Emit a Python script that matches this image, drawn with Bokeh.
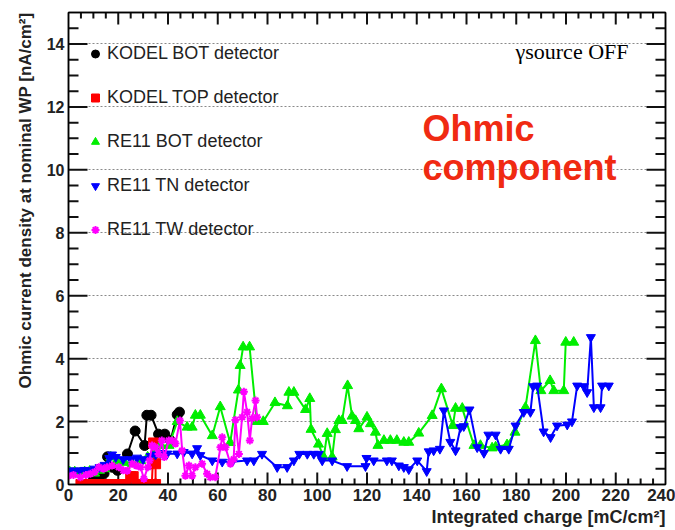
from bokeh.plotting import figure
from bokeh.models import (Range1d, LinearAxis, SingleIntervalTicker, Legend,
                          LegendItem, Label, Title)
from bokeh.embed import file_html
from bokeh.resources import INLINE

# Ohmic current density vs integrated charge, gamma source off
kodel_bot_x = [10.0, 12.5, 14.3, 15.7, 17.5, 19.7, 23.7, 26.8, 30.6, 31.5, 33.2, 36.2, 38.7, 41.0, 43.7, 44.6]
kodel_bot_y = [0.20, 0.28, 0.35, 0.88, 0.55, 0.45, 0.97, 1.70, 1.24, 2.20, 2.20, 1.60, 1.60, 1.40, 2.22, 2.30]

kodel_top_x = [5.0, 7.0, 9.0, 11.0, 13.0, 15.0, 17.0, 19.0, 21.0, 23.0, 25.0, 26.0,
               27.5, 29.5, 31.5, 33.5, 34.2, 35.0, 35.0]
kodel_top_y = [0.0, 0.0, 0.0, 0.0, 0.0, 0.0, 0.0, 0.0, 0.0, 0.0, 0.25, 0.25,
               0.0, 0.0, 0.0, 0.0, 1.32, 0.66, 0.0]

re11_bot_x = [0.5, 2.5, 4.5, 6.5, 8.5, 10.5, 12.5, 14.5, 17.0, 19.5, 22.5, 25.7, 29.0, 31.8, 34.5,
              37.0, 40.4, 43.7, 47.7, 49.7, 51.0, 53.0, 57.8, 61.0, 65.0, 68.3, 69.0, 70.2, 72.8,
              75.7, 78.3, 83.0, 88.0, 88.6, 90.6, 95.3, 97.0, 97.5, 100.5, 102.6, 104.0, 106.0,
              107.3, 108.7, 110.0, 112.2, 114.0, 115.4, 116.7, 120.0, 121.4, 123.4, 124.4, 126.8,
              129.4, 132.0, 134.8, 136.8, 140.8, 146.2, 149.9, 154.5, 155.6, 158.3, 163.0, 165.6,
              170.3, 171.7, 176.3, 179.5, 183.7, 187.7, 189.9, 193.6, 195.1, 199.1, 199.9, 203.1]
re11_bot_y = [0.40, 0.40, 0.36, 0.40, 0.42, 0.36, 0.45, 0.50, 0.87, 0.74, 0.70, 0.66, 0.76, 0.87, 0.95,
              1.24, 1.24, 2.00, 1.82, 1.82, 2.20, 2.20, 1.55, 2.47, 1.33, 3.00, 3.78, 4.37, 4.37,
              2.00, 2.00, 2.60, 2.50, 2.93, 2.93, 2.38, 2.73, 1.75, 1.28, 0.87, 1.62, 0.87,
              1.74, 2.03, 2.03, 3.14, 2.17, 2.03, 1.77, 2.14, 1.93, 1.66, 1.24, 1.40,
              1.40, 1.40, 1.34, 1.34, 1.63, 2.19, 3.04, 1.87, 2.42, 2.42, 1.24, 1.24,
              1.16, 1.19, 1.26, 1.66, 2.45, 4.57, 2.98, 3.30, 2.98, 2.98, 4.52, 4.52]

re11_tn_x = [0.3, 2.5, 4.5, 6.5, 8.5, 10.5, 12.5, 14.5, 16.4, 17.5, 19.0, 22.0, 25.0, 27.5, 30.0,
             33.0, 35.0, 37.0, 39.7, 43.7, 46.3, 49.7, 51.7, 53.0, 57.8, 61.8, 65.8, 71.8, 74.5,
             77.8, 83.9, 87.9, 90.6, 92.8, 96.0, 98.6, 100.6, 102.0, 106.0, 112.0, 119.4, 119.8,
             122.7, 128.0, 130.0, 132.8, 134.8, 136.8, 140.2, 144.0, 144.8, 146.8, 149.3, 150.9,
             153.5, 155.6, 157.6, 158.9, 161.2, 164.3, 167.0, 168.8, 171.7, 173.7, 177.0, 179.7,
             183.0, 185.7, 186.8, 188.4, 191.0, 193.8, 196.4, 200.5, 202.4, 204.5, 207.2, 208.5,
             210.0, 211.2, 213.9, 214.5, 217.2]
re11_tn_y = [0.44, 0.44, 0.44, 0.46, 0.44, 0.50, 0.55, 0.62, 0.84, 0.95, 0.87, 0.80, 0.80, 0.85, 0.80,
             0.90, 0.95, 1.00, 0.98, 0.98, 1.03, 0.98, 1.15, 0.93, 0.76, 0.72, 0.72, 0.76, 0.76,
             0.97, 0.55, 0.55, 0.76, 0.97, 0.97, 0.97, 0.97, 0.76, 0.76, 0.58, 0.58, 0.84,
             0.76, 0.76, 0.76, 0.60, 0.55, 0.48, 0.76, 0.42, 1.05, 1.08, 1.13, 2.35,
             1.35, 1.08, 1.82, 1.85, 2.38, 1.18, 1.00, 1.58, 1.58, 1.13, 1.13, 1.87,
             2.30, 2.30, 3.12, 3.14, 1.68, 1.50, 1.87, 1.90, 2.00, 3.14, 3.12, 2.93,
             4.68, 2.45, 2.45, 3.14, 3.14]

re11_tw_x = [0.0, 2.0, 4.8, 7.0, 8.8, 10.5, 12.2, 14.0, 15.5, 17.5, 20.2, 22.0, 23.6, 25.6, 27.3,
             29.0, 30.3, 31.9, 32.6, 33.6, 35.0, 36.2, 37.5, 38.5, 40.3, 41.7, 43.0, 44.8, 45.7,
             47.0, 48.4, 49.7, 51.0, 53.7, 55.7, 57.0, 59.0, 61.1, 61.8, 63.1, 65.1, 66.4, 67.1,
             68.5, 69.8, 70.5, 71.8, 72.9, 73.8, 75.2, 75.8]
re11_tw_y = [0.28, 0.30, 0.23, 0.30, 0.34, 0.40, 0.55, 0.50, 0.55, 0.60, 0.55, 0.45, 0.44, 0.66, 0.60,
             0.55, 0.18, 0.55, 0.76, 1.24, 1.18, 0.97, 1.40, 0.87, 1.40, 1.40, 1.30, 2.03, 1.08,
             0.28, 0.60, 0.28, 0.55, 0.66, 0.34, 0.23, 0.23, 1.18, 1.50, 1.18, 0.66, 0.80, 2.05,
             0.97, 2.14, 2.95, 2.30, 1.40, 2.10, 2.67, 2.14]

X_MIN, X_MAX, X_STEP, X_SUB = 0, 240, 20, 4
Y_MIN, Y_MAX, Y_STEP, Y_SUB = 0, 15, 2, 4

FONT = "Liberation Sans"
W, H = 675, 530
BORDER_L, BORDER_R, BORDER_T, BORDER_B = 68, 10, 12, 46

p = figure(width=W, height=H, x_range=Range1d(X_MIN, X_MAX), y_range=Range1d(Y_MIN, Y_MAX),
           output_backend="svg", toolbar_location=None,
           min_border_left=BORDER_L, min_border_right=BORDER_R,
           min_border_top=BORDER_T, min_border_bottom=BORDER_B,
           background_fill_color="white", border_fill_color="white")
p.outline_line_color = "black"
p.outline_line_width = 1.5

xt = SingleIntervalTicker(interval=X_STEP, num_minor_ticks=X_SUB)
yt = SingleIntervalTicker(interval=Y_STEP, num_minor_ticks=Y_SUB)


def style_axis(ax, show_labels=True):
    ax.axis_line_color = "black"
    ax.axis_line_width = 1.5
    ax.major_tick_line_color = None
    ax.minor_tick_line_color = None
    ax.major_tick_out = 0
    ax.minor_tick_out = 0
    ax.major_label_text_font = FONT
    ax.major_label_text_font_style = "bold"
    if show_labels:
        ax.major_label_text_color = "#222222"
        ax.major_label_text_font_size = "16px"
        ax.major_label_standoff = 4
    else:
        ax.major_label_text_color = None
        ax.major_label_text_font_size = "1px"
        ax.major_label_standoff = 0


p.xaxis.ticker = xt
p.yaxis.ticker = yt
style_axis(p.xaxis[0])
style_axis(p.yaxis[0])
p.xaxis.major_label_text_font_size = "17px"

top = LinearAxis(ticker=xt)
style_axis(top, show_labels=False)
p.add_layout(top, "above")
right = LinearAxis(ticker=yt)
style_axis(right, show_labels=False)
p.add_layout(right, "right")

p.xgrid.visible = False
p.ygrid.ticker = yt
p.ygrid.grid_line_color = "#8a8a8a"
p.ygrid.grid_line_dash = "2 2"
p.ygrid.grid_line_width = 1

# inward tick marks on all four sides of the frame; pixel lengths are
# converted to data units with the frame's size
frame_w = W - BORDER_L - BORDER_R
frame_h = H - BORDER_T - BORDER_B
dx_per_px = (X_MAX - X_MIN) / frame_w
dy_per_px = (Y_MAX - Y_MIN) / frame_h

n_x = int((X_MAX - X_MIN) * X_SUB / X_STEP)
n_y = int((Y_MAX - Y_MIN) * Y_SUB / Y_STEP)
x_ticks = [(X_MIN + i * X_STEP / X_SUB, 12 if i % X_SUB == 0 else 6) for i in range(1, n_x)]
y_ticks = [(Y_MIN + i * Y_STEP / Y_SUB, 19 if i % Y_SUB == 0 else 10) for i in range(1, n_y + 1)
           if Y_MIN + i * Y_STEP / Y_SUB < Y_MAX]

tx0, ty0, tx1, ty1 = [], [], [], []
for v, ln in x_ticks:
    tx0 += [v, v]
    tx1 += [v, v]
    ty0 += [Y_MIN, Y_MAX]
    ty1 += [Y_MIN + ln * dy_per_px, Y_MAX - ln * dy_per_px]
for v, ln in y_ticks:
    ty0 += [v, v]
    ty1 += [v, v]
    tx0 += [X_MIN, X_MAX]
    tx1 += [X_MIN + ln * dx_per_px, X_MAX - ln * dx_per_px]
p.segment(x0=tx0, y0=ty0, x1=tx1, y1=ty1, line_color="#111111", line_width=2)

p.add_layout(Title(text="Ohmic current density at nominal WP [nA/cm²]", align="right",
                   text_font=FONT, text_font_size="17px", text_font_style="bold",
                   text_color="#222222", offset=0, standoff=18), "left")
p.add_layout(Title(text="Integrated charge [mC/cm²]", align="right",
                   text_font=FONT, text_font_size="18px", text_font_style="bold",
                   text_color="#222222", offset=0, standoff=3), "below")

series = [
    (kodel_bot_x, kodel_bot_y, "black", "circle", 10, "KODEL BOT detector"),
    (kodel_top_x, kodel_top_y, "#ff0000", "square", 10, "KODEL TOP detector"),
    (re11_bot_x, re11_bot_y, "#00ee00", "triangle", 10, "RE11 BOT detector"),
    (re11_tn_x, re11_tn_y, "#0000ff", "inverted_triangle", 9, "RE11 TN detector"),
    (re11_tw_x, re11_tw_y, "#ff00ff", "asterisk", 8, "RE11 TW detector"),
]

items = []
for xs, ys, color, marker, size, label in series:
    p.line(xs, ys, line_color=color, line_width=2)
    r = p.scatter(xs, ys, marker=marker, size=size, fill_color=color,
                  line_color=color, line_width=2 if marker == "asterisk" else 1)
    items.append(LegendItem(label=label, renderers=[r]))

legend = Legend(items=items, location=(12, 239), background_fill_alpha=0,
                border_line_alpha=0, label_text_font=FONT, label_text_font_size="18px",
                label_text_color="#222222", glyph_width=20, glyph_height=21,
                label_height=21, spacing=23, padding=5, label_standoff=2, margin=0)
p.add_layout(legend)

p.add_layout(Label(x=179.7, y=13.76, text="γsource OFF", text_font="Liberation Serif",
                   text_font_size="22px", text_color="black", text_baseline="alphabetic"))
p.add_layout(Label(x=142.3, y=11.30, text="Ohmic", text_font=FONT, text_font_size="36px",
                   text_font_style="bold", text_color="#f02a12", text_baseline="alphabetic"))
p.add_layout(Label(x=142.3, y=10.07, text="component", text_font=FONT, text_font_size="36px",
                   text_font_style="bold", text_color="#f02a12", text_baseline="alphabetic"))

open("out.html", "w").write(file_html(p, INLINE))
